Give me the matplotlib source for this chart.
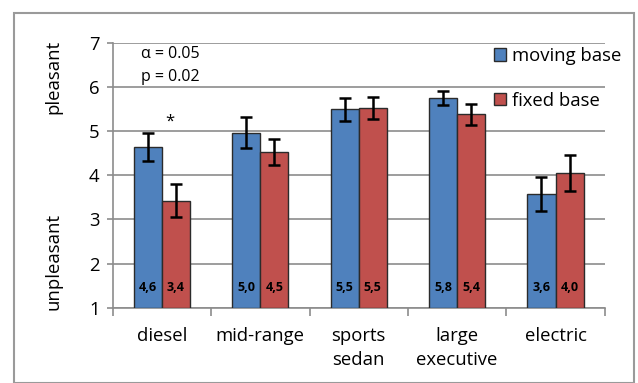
import matplotlib
matplotlib.use("Agg")
import matplotlib.pyplot as plt
import matplotlib.patches as mpatches
import numpy as np

plt.rcParams['font.family'] = ['Open Sans', 'DejaVu Sans']

categories = ["diesel", "mid-range", "sports\nsedan", "large\nexecutive", "electric"]
moving_base = [4.64, 4.96, 5.49, 5.74, 3.57]
fixed_base = [3.42, 4.52, 5.52, 5.38, 4.05]
moving_err = [0.32, 0.35, 0.26, 0.16, 0.38]
fixed_err = [0.37, 0.30, 0.25, 0.24, 0.40]
moving_labels = ["4,6", "5,0", "5,5", "5,8", "3,6"]
fixed_labels = ["3,4", "4,5", "5,5", "5,4", "4,0"]
series_names = ["moving base", "fixed base"]
y_ticks = [1, 2, 3, 4, 5, 6, 7]

W, H = 638, 383
fig = plt.figure(figsize=(W / 100, H / 100), dpi=100)

# chart area border
fig.patches.append(mpatches.Rectangle((14 / W, 0), (634 - 14) / W, (383 - 13) / H,
                                      transform=fig.transFigure, fill=False,
                                      edgecolor="#9a9a9a", lw=1.5))

ax = fig.add_axes([112.7 / W, (H - 307.7) / H, (604.7 - 112.7) / W, (307.7 - 42.7) / H])

blue = "#4F81BD"
red = "#C0504D"
grid_c = "#8c8c8c"
FS = 13.3

x = np.arange(len(categories))
bw = 1 / 3.5
b1 = ax.bar(x - bw / 2, [v - 1 for v in moving_base], bw, bottom=1, color=blue,
            edgecolor="#2b2b2b", lw=1.0, zorder=3, label=series_names[0])
b2 = ax.bar(x + bw / 2, [v - 1 for v in fixed_base], bw, bottom=1, color=red,
            edgecolor="#2b2b2b", lw=1.0, zorder=3, label=series_names[1])
ax.errorbar(x - bw / 2, moving_base, yerr=moving_err, fmt="none", ecolor="black",
            elinewidth=1.8, capsize=4.3, capthick=1.8, zorder=4)
ax.errorbar(x + bw / 2, fixed_base, yerr=fixed_err, fmt="none", ecolor="black",
            elinewidth=1.8, capsize=4.3, capthick=1.8, zorder=4)

for i in range(len(categories)):
    ax.text(x[i] - bw / 2, 1.46, moving_labels[i], ha="center", va="center",
            fontsize=9, fontweight="bold", zorder=5)
    ax.text(x[i] + bw / 2, 1.46, fixed_labels[i], ha="center", va="center",
            fontsize=9, fontweight="bold", zorder=5)

ax.set_xlim(-0.5, len(categories) - 0.5)
ax.set_ylim(1, 7)
ax.set_yticks(y_ticks)
ax.set_yticklabels([str(t) for t in y_ticks], fontsize=FS)
ax.yaxis.grid(True, color=grid_c, lw=1.2, zorder=0)
ax.set_axisbelow(True)

ax.set_xticks(np.arange(-0.5, len(categories), 1.0))
ax.set_xticklabels([])
ax.set_xticks(x, minor=True)
ax.set_xticklabels(categories, minor=True, fontsize=FS, linespacing=1.45, va="top")
ax.tick_params(axis="x", which="major", length=5.5, color=grid_c, width=1.2, direction="out")
ax.tick_params(axis="x", which="minor", length=0, pad=14)
ax.tick_params(axis="y", length=4.5, color=grid_c, width=1.2, pad=5)

for s in ["top", "right"]:
    ax.spines[s].set_visible(False)
for s in ["left", "bottom"]:
    ax.spines[s].set_color(grid_c)
    ax.spines[s].set_linewidth(1.2)

# side labels
fig.text(53 / W, 1 - 77 / H, "pleasant", rotation=90, ha="center", va="center", fontsize=FS)
fig.text(53 / W, 1 - 262 / H, "unpleasant", rotation=90, ha="center", va="center", fontsize=FS)

# annotations
fig.text(140.7 / W, 1 - 54 / H, "α = 0.05", ha="left", va="center", fontsize=11.5)
fig.text(140.7 / W, 1 - 77 / H, "p = 0.02", ha="left", va="center", fontsize=11.5)
ax.text(0.08, 5.22, "*", ha="center", va="center", fontsize=12)

ax.legend(handles=[b1, b2], loc="upper left", bbox_to_anchor=(494 / W, 1 - 47 / H),
          bbox_transform=fig.transFigure, frameon=False, fontsize=FS,
          handlelength=0.65, handleheight=0.65, handletextpad=0.3,
          labelspacing=1.45, borderaxespad=0, borderpad=0)

fig.savefig("out.png", dpi=100)
